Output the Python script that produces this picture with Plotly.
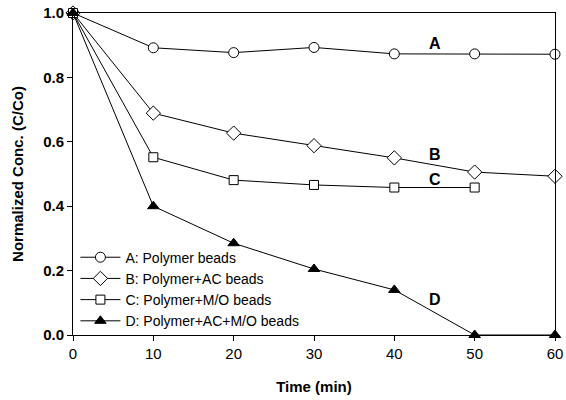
import plotly.graph_objects as go

time = [0, 10, 20, 30, 40, 50, 60]
time_c = [0, 10, 20, 30, 40, 50]
series_a = [1.0, 0.892, 0.877, 0.893, 0.873, 0.873, 0.872]
series_b = [1.0, 0.689, 0.627, 0.588, 0.55, 0.506, 0.493]
series_c = [1.0, 0.552, 0.481, 0.466, 0.458, 0.458]
series_d = [1.0, 0.40, 0.285, 0.205, 0.14, 0.0, 0.0]
names = ["A: Polymer beads", "B: Polymer+AC beads", "C: Polymer+M/O beads", "D: Polymer+AC+M/O beads"]
curve_labels = ["A", "B", "C", "D"]
label_x = [45, 45, 45, 45]
label_y = [0.905, 0.56, 0.482, 0.11]

FONT = "Liberation Sans, Arial"

fig = go.Figure()
specs = [
    (time, series_a, "circle", 10, "white", names[0]),
    (time, series_b, "diamond", 11, "white", names[1]),
    (time_c, series_c, "square", 9, "white", names[2]),
    (time, series_d, "triangle-up", 10, "black", names[3]),
]
for xs, ys, sym, sz, fill, nm in specs:
    fig.add_trace(go.Scatter(
        x=xs, y=ys, mode="lines+markers", name=nm,
        line=dict(color="black", width=1),
        marker=dict(symbol=sym, size=sz, color=fill,
                    line=dict(color="black", width=1)),
        cliponaxis=False,
    ))

for lx, ly, lt in zip(label_x, label_y, curve_labels):
    fig.add_annotation(x=lx, y=ly, text="<b>%s</b>" % lt, showarrow=False,
                       font=dict(size=16, color="black", family=FONT),
                       xanchor="center", yanchor="middle")

fig.update_layout(
    width=566, height=400,
    margin=dict(l=73, r=11, t=13, b=65),
    paper_bgcolor="white", plot_bgcolor="white",
    font=dict(family=FONT, color="black"),
    showlegend=True,
    legend=dict(x=0.005, y=0.29, xanchor="left", yanchor="top",
                bgcolor="rgba(0,0,0,0)", font=dict(size=14), tracegroupgap=0,
                itemwidth=40),
)
fig.update_xaxes(range=[0, 60], tickvals=[0, 10, 20, 30, 40, 50, 60],
                 ticks="outside", ticklen=5, tickcolor="black",
                 showline=True, linecolor="black", linewidth=1, mirror=True,
                 showgrid=False, zeroline=False, automargin=False,
                 tickfont=dict(size=15, family=FONT),
                 tickprefix="<b>", ticksuffix="</b>",
                 title=dict(text="<b>Time (min)</b>", font=dict(size=15), standoff=20))
fig.update_yaxes(range=[0, 1.0], tickvals=[0, 0.2, 0.4, 0.6, 0.8, 1.0],
                 ticktext=["<b>0.0</b>", "<b>0.2</b>", "<b>0.4</b>", "<b>0.6</b>", "<b>0.8</b>", "<b>1.0</b>"],
                 ticks="outside", ticklen=5, tickcolor="black",
                 showline=True, linecolor="black", linewidth=1, mirror=True,
                 showgrid=False, zeroline=False, automargin=False,
                 tickfont=dict(size=15, family=FONT),
                 title=dict(text="<b>Normalized Conc. (C/Co)</b>", font=dict(size=15), standoff=15))

fig.write_html("out.html")
